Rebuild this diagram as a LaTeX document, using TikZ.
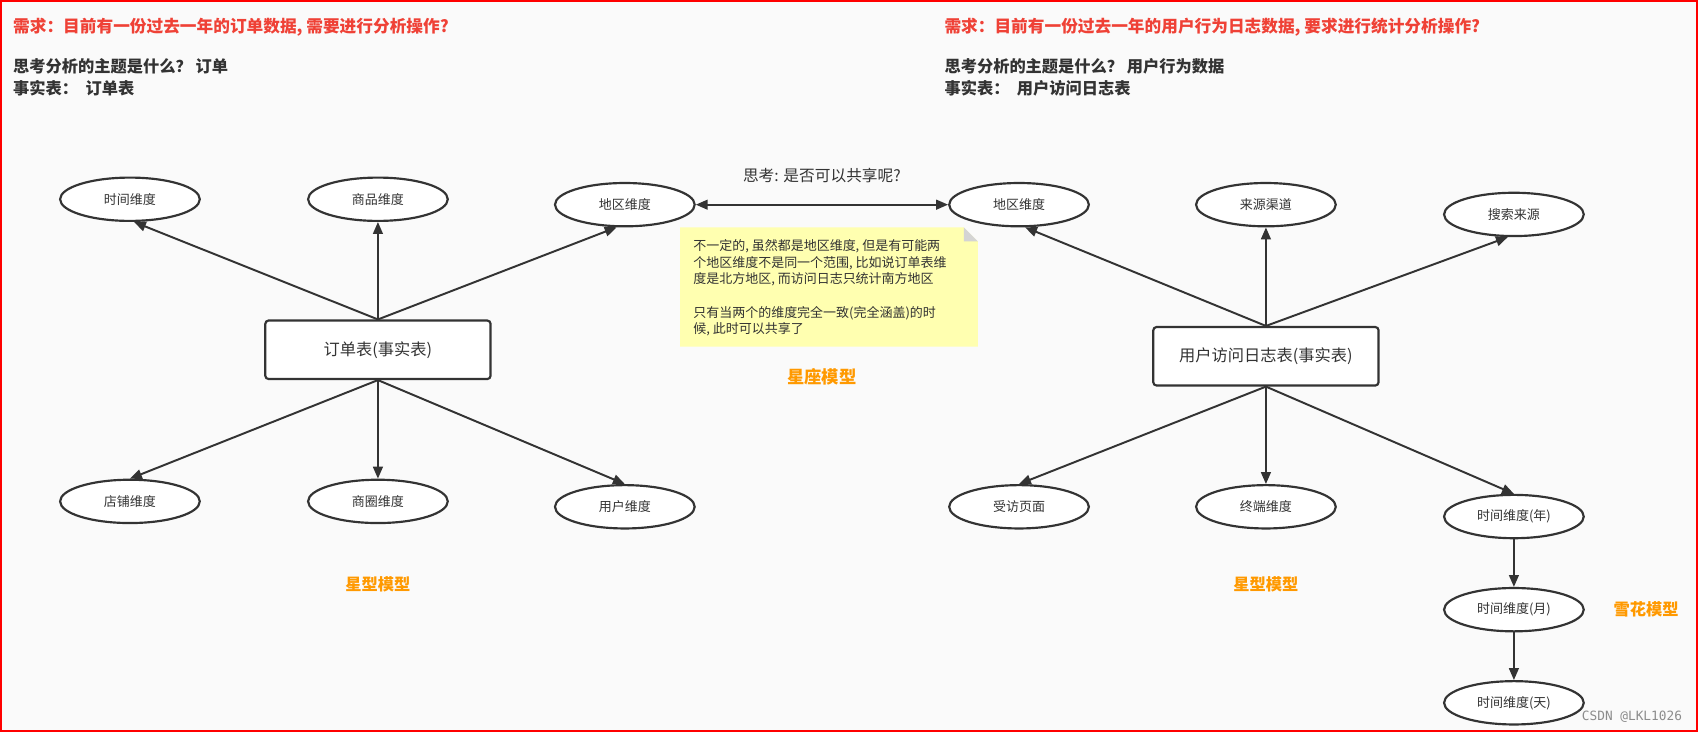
\documentclass[tikz,border=0pt]{standalone}
\usepackage{fontspec}
\setmainfont{Noto Sans CJK SC}
\setmonofont{DejaVu Sans Mono}
\usetikzlibrary{arrows.meta, positioning, shapes.geometric, calc}
\definecolor{frameRed}{HTML}{FF0000}
\definecolor{askRed}{HTML}{EF4136}
\definecolor{inkDark}{HTML}{333333}
\definecolor{pageGray}{HTML}{FAFAFA}
\definecolor{noteYellow}{HTML}{FFFFB0}
\definecolor{foldGray}{HTML}{D4D4D4}
\definecolor{modelOrange}{HTML}{FF9900}
\definecolor{markGray}{HTML}{8C8C8C}
\tikzset{
  arrowD/.style={-{Triangle[length=11pt, width=9pt]}, inkDark, line width=1.8pt},
  arrowDD/.style={{Triangle[length=11pt, width=9pt]}-{Triangle[length=11pt, width=9pt]},
                  inkDark, line width=1.8pt},
  dimE/.style={ellipse, draw=inkDark, fill=white, line width=2pt, inner sep=0pt,
               minimum width=129pt, minimum height=40pt, text=inkDark,
               font=\fontsize{12}{14}\selectfont},
  factBox/.style={rectangle, rounded corners=3pt, draw=inkDark, fill=white,
                  line width=2pt, minimum width=208pt, minimum height=54pt,
                  text=inkDark, font=\fontsize{15}{18}\selectfont},
  askTxt/.style={anchor=west, inner sep=0pt, text=askRed,
                 font=\bfseries\fontsize{15.4}{18}\selectfont},
  infoTxt/.style={anchor=north west, inner sep=0pt, align=left, text=inkDark,
                  font=\bfseries\fontsize{15}{20}\selectfont},
  modelTxt/.style={text=modelOrange, inner sep=0pt, font=\bfseries\fontsize{15}{18}\selectfont},
}

\begin{document}
\begin{tikzpicture}[x=1pt, y=-1pt, node distance=44pt]
  \useasboundingbox (0,0) rectangle (1568,676);
  \fill[pageGray] (0,0) rectangle (1568,676);
  \draw[frameRed, line width=2pt] (1,1) rectangle (1567,675);

  % left: order data
  \node[askTxt] (askL) at (12,25) {需求：目前有一份过去一年的订单数据, 需要进行分析操作?};
  \node[infoTxt] (infoL) at (12,54) {思考分析的主题是什么？ 订单\\事实表：\ \ 订单表};

  \node[factBox] (factL) at (349,323) {订单表(事实表)};
  \node[dimE] (timeL) at (120,184) {时间维度};
  \node[dimE] (goodsL) at (349,184) {商品维度};
  \node[dimE] (areaL) at (577,189) {地区维度};
  \node[dimE] (shopL) at (120,463) {店铺维度};
  \node[dimE] (zoneL) at (349,463) {商圈维度};
  \node[dimE] (userL) at (577,468) {用户维度};
  \draw[arrowD] (factL.north) -- (timeL.-80);
  \draw[arrowD] (factL.north) -- (goodsL.south);
  \draw[arrowD] (factL.north) -- (areaL.-110);
  \foreach \d in {shopL, zoneL, userL}
    \draw[arrowD] (factL.south) -- (\d.north);
  \node[modelTxt] (starL) at (349,540) {星型模型};

  % right: user log data
  \node[askTxt] (askR) at (872,25) {需求：目前有一份过去一年的用户行为日志数据, 要求进行统计分析操作?};
  \node[infoTxt] (infoR) at (872,54) {思考分析的主题是什么？ 用户行为数据\\事实表：\ \ 用户访问日志表};

  \node[factBox] (factR) at (1169,329) {用户访问日志表(事实表)};
  \node[dimE] (areaR) at (941,189) {地区维度};
  \node[dimE] (srcR) at (1169,189) {来源渠道};
  \node[dimE] (seekR) at (1398,198) {搜索来源};
  \node[dimE] (pageR) at (941,468) {受访页面};
  \node[dimE] (termR) at (1169,468) {终端维度};
  \node[dimE] (yearR) at (1398,477) {时间维度(年)};
  \node[dimE, below=of yearR] (monthR) {时间维度(月)};
  \node[dimE, below=of monthR] (dayR) {时间维度(天)};
  \draw[arrowD] (factR.north) -- (areaR.-75);
  \draw[arrowD] (factR.north) -- (srcR.south);
  \draw[arrowD] (factR.north) -- (seekR.-105);
  \foreach \d in {pageR, termR, yearR}
    \draw[arrowD] (factR.south) -- (\d.north);
  \draw[arrowD] (yearR) -- (monthR);
  \draw[arrowD] (monthR) -- (dayR);
  \node[modelTxt] (starR) at (1169,540) {星型模型};
  \node[modelTxt] (snowR) at (1520,563) {雪花模型};

  % shared dimension
  \draw[arrowDD] (areaL) -- node[above=19pt, inner sep=0pt, text=inkDark,
    font=\fontsize{14.5}{17}\selectfont] (askShare) {思考: 是否可以共享呢?} (areaR);
  \fill[noteYellow] (628,210) -- (890,210) -- (903,223) -- (903,320) -- (628,320) -- cycle;
  \fill[foldGray] (890,210) -- (903,223) -- (890,223) -- cycle;
  \node[anchor=north west, inner sep=0pt, align=left, text=inkDark,
    font=\fontsize{12}{15.4}\selectfont] (note) at (640,221)
    {不一定的, 虽然都是地区维度, 但是有可能两\\个地区维度不是同一个范围, 比如说订单表维\\度是北方地区, 而访问日志只统计南方地区\\[15.4pt]只有当两个的维度完全一致(完全涵盖)的时\\候, 此时可以共享了};
  \node[modelTxt, font=\bfseries\fontsize{16}{19}\selectfont] (galaxy) at (759,348) {星座模型};

  \node[text=markGray, inner sep=0pt, font=\ttfamily\fontsize{11.8}{14}\selectfont] (mark) at (1507,662) {CSDN @LKL1026};
\end{tikzpicture}
\end{document}
